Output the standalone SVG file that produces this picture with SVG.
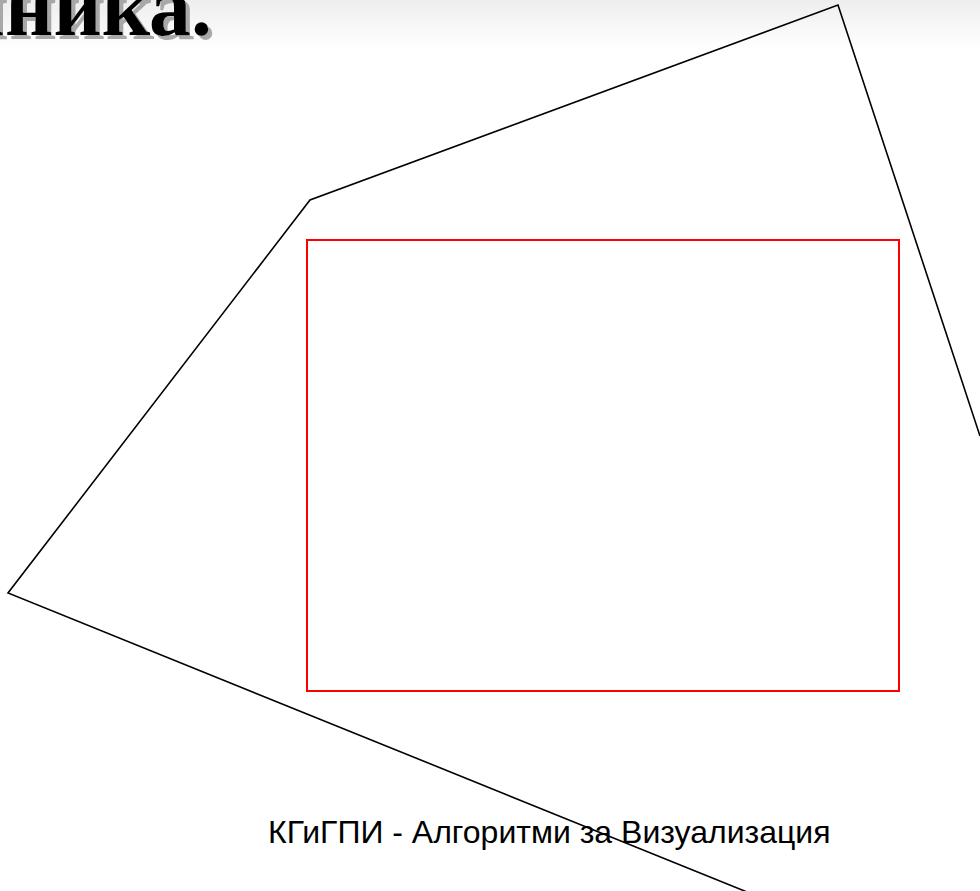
<svg xmlns="http://www.w3.org/2000/svg" width="980" height="891" viewBox="0 0 980 891">
<defs>
<linearGradient id="bg" x1="0" y1="0" x2="0" y2="1">
<stop offset="0" stop-color="#eeeeee"/>
<stop offset="1" stop-color="#ffffff"/>
</linearGradient>
<filter id="shadow" x="-10%" y="-50%" width="130%" height="200%">
<feFlood flood-color="#a8a8a8"/>
<feComposite in2="SourceAlpha" operator="in"/>
<feOffset dx="4" dy="4" result="sh"/>
<feMerge><feMergeNode in="sh"/><feMergeNode in="SourceGraphic"/></feMerge>
</filter>
<style>
.title{font-family:"Liberation Serif","Times New Roman",serif;font-weight:bold;font-size:84px;fill:#000}
.foot{font-family:"Liberation Sans",Arial,sans-serif;font-size:32px;fill:#000}
.poly{fill:none;stroke:#000;stroke-width:1.6}
.clip{fill:none;stroke:#ff0000;stroke-width:2}
</style>
</defs>
<rect x="0" y="0" width="980" height="891" fill="#fff"/>
<rect x="0" y="0" width="980" height="50" fill="url(#bg)"/>
<g id="title">
<text class="title" x="212" y="35" text-anchor="end" filter="url(#shadow)">ълника.</text>
</g>
<g id="clip-window">
<rect class="clip" x="307" y="240" width="592" height="451"/>
</g>
<g id="polygon">
<polyline class="poly" points="980,436 838,5 310,200 8,593 752,894"/>
</g>
<g id="footer">
<text class="foot" x="268" y="843">КГиГПИ - Алгоритми за Визуализация</text>
</g>
</svg>
